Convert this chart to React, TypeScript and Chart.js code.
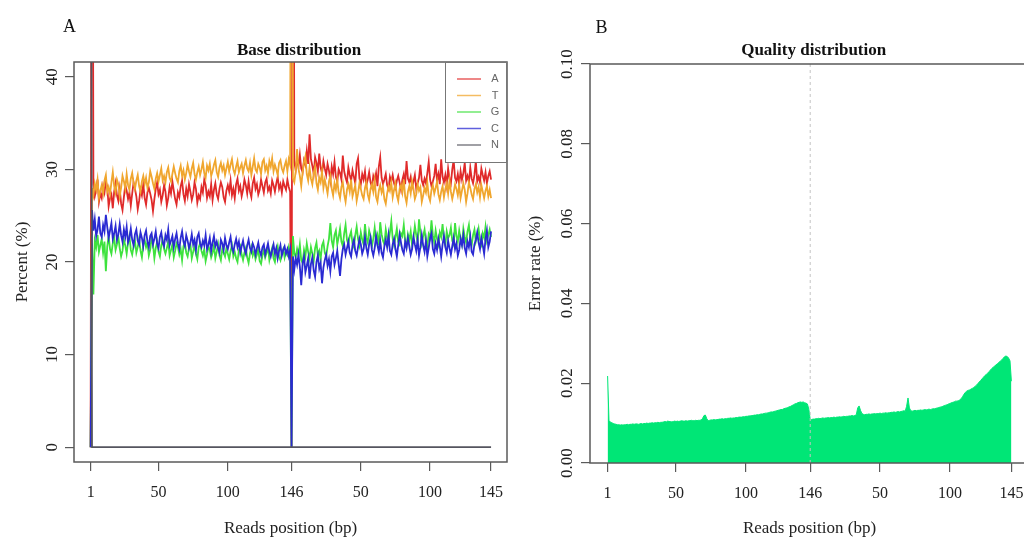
import React, { useEffect, useRef } from "react";
import { Chart, registerables } from "chart.js";

Chart.register(...registerables);

// ---------- Data ----------
const X_TICK_POS = [1, 50, 100, 146, 196, 246, 290];
const X_TICK_LABELS = ["1", "50", "100", "146", "50", "100", "145"];

const BASE_Y_TICKS = [0, 10, 20, 30, 40];
const QUAL_Y_TICKS = [0, 0.02, 0.04, 0.06, 0.08, 0.1];

const BASE_LABELS = ["A", "T", "G", "C", "N"];
const BASE_COLORS = ["#e02a2a", "#f0a62e", "#3ee23e", "#2a2ad2", "#55555f"];

// percent per read position 1..290
const BASE_A = [
  0, 100, 28.4, 27.1, 27.8, 28.9, 26.5, 27.4, 26.9, 28.2,
  27.5, 28.7, 28.1, 26.0, 26.9, 27.3, 25.8, 27.6, 28.5, 27.2,
  26.6, 27.9, 26.3, 25.6, 27.0, 28.3, 27.7, 26.8, 27.5, 26.1,
  27.4, 28.6, 27.9, 27.1, 25.7, 26.6, 27.8, 27.2, 28.4, 26.9,
  26.2, 27.5, 28.0, 27.4, 26.7, 25.5, 26.8, 27.9, 28.6, 27.3,
  27.8, 26.5, 27.2, 28.3, 27.6, 26.1, 26.9, 28.1, 27.4, 28.7,
  27.7, 26.8, 26.2, 27.5, 27.0, 28.2, 28.8, 27.3, 26.6, 27.9,
  27.1, 28.4, 27.6, 26.7, 27.3, 28.6, 27.9, 26.4, 27.2, 26.8,
  28.1, 27.5, 28.9, 28.3, 26.9, 27.6, 27.1, 28.4, 26.7, 27.8,
  28.5, 27.3, 26.8, 27.9, 28.6, 28.1, 27.0, 26.5, 27.7, 28.3,
  27.6, 28.8, 27.2, 27.9, 26.9, 28.4, 29.0, 27.7, 28.2, 27.1,
  27.8, 28.9, 28.3, 27.4, 28.7, 27.6, 27.0, 28.5, 29.1, 27.9,
  28.4, 27.3, 27.8, 28.9, 28.2, 27.5, 28.6, 29.0, 27.7, 28.1,
  27.4, 28.8, 28.3, 27.6, 28.5, 29.2, 27.9, 28.4, 27.5, 28.7,
  28.2, 27.8, 28.9, 28.1, 27.6, 0, 100, 30.8, 29.9, 31.2,
  30.3, 31.6, 30.1, 29.7, 31.0, 30.5, 32.0, 30.6, 33.8, 31.1,
  30.4, 29.5, 31.3, 30.7, 29.8, 31.7, 30.2, 29.6, 30.9, 30.1,
  29.4, 30.6, 29.9, 28.8, 30.3, 29.5, 30.8, 29.2, 28.7, 30.0,
  29.6, 28.9, 31.5, 29.8, 29.1, 28.6, 30.2, 29.4, 28.8, 29.9,
  29.2, 28.5, 30.6, 31.2, 29.0, 28.4, 29.5, 28.9, 29.8, 28.3,
  28.9, 29.7, 28.6, 28.1, 29.3, 28.8, 29.6, 28.2, 30.3, 31.3,
  29.1, 28.4, 28.9, 29.5, 28.3, 27.9, 29.2, 28.7, 29.4, 28.5,
  28.0, 28.8, 29.3, 28.6, 27.8, 28.9, 29.5, 28.4, 30.9, 29.0,
  28.6, 29.2, 28.1, 28.7, 29.4, 27.9, 28.5, 29.1, 30.5, 28.8,
  28.3, 29.0, 28.5, 29.6, 30.8, 28.9, 28.2, 28.7, 29.3, 30.6,
  28.8, 29.5, 28.4, 31.1, 29.2, 28.6, 29.4, 28.3, 30.1, 29.0,
  28.5, 30.0, 31.0, 29.1, 28.7, 29.5, 28.4, 29.8, 28.9, 29.6,
  30.7, 28.8, 29.3, 28.6, 30.2, 29.0, 28.5, 29.4, 30.9, 28.7,
  29.2, 28.6, 30.1, 29.4, 28.8, 29.7, 28.5, 29.3, 29.8, 28.9,
];

const BASE_T = [
  0, 28.0, 27.2, 28.5, 27.8, 28.9, 26.9, 27.7, 28.3, 27.4,
  28.8, 29.4, 27.6, 28.1, 27.3, 28.6, 29.7, 28.2, 27.5, 28.9,
  28.4, 27.1, 28.0, 29.3, 28.7, 27.9, 29.5, 28.3, 27.8, 29.0,
  29.6, 28.5, 27.9, 28.8, 29.4, 28.2, 27.6, 28.7, 29.3, 28.4,
  29.1, 28.0, 28.6, 29.8, 29.2, 28.5, 27.9, 29.0, 29.6, 28.7,
  29.4, 30.1, 28.8, 29.3, 28.6, 29.7, 30.2, 29.1, 28.7, 29.5,
  30.3, 29.6, 29.0, 28.6, 29.8, 30.4, 29.3, 29.9, 28.9, 29.6,
  30.5, 29.8, 29.2, 30.1, 30.7, 29.5, 28.9, 29.7, 30.3, 29.4,
  30.0, 30.8, 29.6, 29.1, 30.4, 29.9, 30.6, 29.3, 29.8, 30.5,
  31.0, 29.7, 29.2, 30.2, 30.7, 29.9, 30.4, 29.4, 30.1, 30.8,
  29.8, 30.5, 31.1, 30.0, 29.5, 30.3, 30.9, 29.7, 30.2, 30.6,
  29.6, 30.4, 31.0, 30.1, 29.8, 30.7, 29.4, 30.3, 31.2, 30.0,
  29.7, 30.6, 30.2, 29.5, 30.8, 31.1, 29.9, 30.4, 29.6, 30.9,
  30.3, 31.2, 29.8, 30.5, 30.0, 29.4, 30.7, 31.0, 30.1, 29.7,
  30.4, 30.9, 29.8, 31.1, 30.5, 100, 29.0, 28.6, 29.8, 32.2,
  30.1, 29.3, 28.2, 29.7, 30.8, 31.4, 29.5, 28.8, 30.2, 29.0,
  28.4, 29.6, 30.3, 28.5, 27.8, 29.1, 28.6, 29.8, 28.0, 28.9,
  28.2, 27.4, 28.7, 29.3, 27.9, 27.2, 28.5, 27.8, 28.9, 27.5,
  26.9, 28.1, 28.6, 27.3, 26.5, 27.8, 28.4, 27.6, 28.9, 27.1,
  27.7, 28.3, 26.6, 27.4, 28.5, 27.9, 27.2, 26.8, 28.0, 28.6,
  27.3, 26.7, 27.9, 28.4, 27.6, 28.8, 27.0, 26.5, 27.7, 28.3,
  27.5, 28.1, 26.8, 26.3, 27.4, 28.2, 27.7, 28.6, 27.0, 27.8,
  28.5, 27.2, 26.6, 27.9, 28.3, 27.5, 28.9, 27.1, 26.4, 27.6,
  28.2, 27.4, 28.7, 27.9, 26.8, 27.3, 28.4, 27.7, 28.1, 26.5,
  27.2, 28.0, 27.5, 28.6, 27.1, 26.6, 27.8, 28.3, 27.4, 28.0,
  28.7, 27.3, 26.7, 27.6, 28.2, 27.0, 27.9, 28.5, 27.4, 28.8,
  27.6, 26.8, 27.5, 28.4, 27.9, 27.2, 28.3, 26.9, 27.7, 28.5,
  27.8, 26.5, 27.4, 28.6, 28.0, 27.3, 26.8, 27.9, 28.4, 27.5,
  28.1, 27.0, 28.3, 27.6, 26.9, 27.7, 28.2, 27.1, 27.8, 26.9,
];

const BASE_G = [
  0, 22.0, 16.5, 22.3, 21.6, 22.9, 21.1, 21.8, 22.5, 21.0,
  22.2, 19.0, 21.7, 22.8, 21.4, 20.9, 22.0, 22.6, 21.3, 21.9,
  22.7, 21.5, 20.6, 21.2, 22.4, 21.8, 20.9, 22.1, 22.8, 21.3,
  20.8, 21.7, 22.3, 21.0, 21.6, 22.5, 21.2, 20.5, 21.9, 22.4,
  21.6, 22.1, 20.7, 21.3, 22.6, 21.9, 20.4, 21.5, 22.2, 21.1,
  20.6, 21.8, 22.4, 21.4, 20.9, 21.5, 22.2, 20.7, 21.3, 21.9,
  20.5, 21.2, 22.0, 21.6, 20.8, 21.4, 20.2, 21.7, 22.1, 21.0,
  20.6, 21.5, 21.9, 20.4, 21.1, 21.8, 20.9, 20.3, 21.6, 22.0,
  21.2, 20.7, 21.4, 20.1, 20.8, 21.7, 21.3, 20.5, 21.0, 21.8,
  20.4, 21.1, 21.9, 20.7, 20.2, 21.4, 21.0, 20.6, 21.5, 20.9,
  20.3, 21.2, 21.8, 20.6, 21.1, 20.4, 20.0, 21.3, 21.7, 20.8,
  20.2, 21.0, 21.5, 20.5, 19.9, 20.9, 21.6, 20.7, 21.2, 20.3,
  20.8, 21.4, 20.1, 19.8, 20.7, 21.3, 20.5, 21.0, 21.6, 20.2,
  20.9, 21.5, 20.4, 20.0, 21.1, 21.7, 20.6, 20.2, 21.0, 21.4,
  20.5, 21.2, 20.8, 21.6, 20.9, 0, 22.8, 21.0, 20.5, 21.4,
  20.7, 21.9, 20.2, 19.9, 21.3, 20.6, 22.0, 21.1, 20.4, 21.6,
  20.9, 20.1, 21.5, 22.1, 20.7, 21.2, 20.3, 21.8, 22.2, 21.0,
  20.6, 21.7, 22.5, 24.2, 22.3, 21.6, 22.9, 23.4, 21.9, 22.7,
  23.6, 22.2, 21.7, 23.1, 24.0, 22.4, 21.9, 22.8, 23.3, 22.0,
  21.6, 22.9, 23.8, 22.5, 21.8, 23.2, 22.4, 21.9, 24.1, 22.6,
  22.1, 23.4, 22.8, 21.7, 22.5, 23.7, 22.2, 22.9, 21.8, 24.3,
  23.0, 22.3, 21.9, 23.5, 22.6, 22.1, 23.2, 24.4, 22.5, 21.8,
  22.7, 23.6, 22.2, 21.9, 23.1, 22.8, 24.0, 22.3, 21.7, 23.0,
  22.4, 23.3, 21.8, 22.6, 23.9, 22.9, 22.1, 24.6, 23.2, 22.0,
  22.8, 23.5, 22.2, 21.7, 23.0, 22.6, 24.5, 22.9, 22.1, 23.4,
  22.5, 21.9, 23.2, 22.7, 24.1, 22.4, 21.8, 23.3, 22.6, 22.9,
  23.7, 22.3, 21.9, 24.2, 22.8, 22.2, 23.4, 22.5, 21.9, 23.6,
  22.7, 22.1, 23.3, 24.0, 22.4, 21.8, 22.9, 23.5, 22.2, 22.8,
  23.6, 22.4, 21.9, 23.1, 22.6, 23.8, 22.3, 22.9, 23.5, 22.7,
];

const BASE_C = [
  0, 25.6, 23.4, 24.6, 22.8, 23.5, 24.9, 23.1, 22.7, 24.0,
  23.3, 25.1, 23.8, 22.6, 23.4, 24.2, 22.5, 23.1, 23.9, 22.4,
  23.0, 24.1, 22.9, 22.2, 23.5, 22.7, 23.8, 22.1, 22.6, 23.6,
  22.4, 21.8, 23.0, 23.5, 22.3, 21.9, 23.2, 22.6, 21.7, 22.9,
  23.4, 22.2, 21.6, 22.8, 23.1, 21.9, 22.5, 23.3, 22.0, 21.5,
  22.7, 23.2, 22.1, 21.7, 22.9, 22.4, 23.5, 21.8, 22.3, 22.8,
  21.6, 22.5, 23.1, 22.0, 21.4, 22.6, 23.3, 22.2, 21.7, 22.9,
  22.3, 21.5, 22.1, 23.0, 21.9, 22.4, 21.3, 22.7, 23.1, 22.0,
  21.6, 22.3, 21.8, 22.9, 21.4, 21.9, 22.6, 21.2, 22.1, 22.8,
  21.7, 22.2, 21.5, 21.0, 22.4, 22.0, 21.3, 22.6, 21.8, 21.4,
  22.1, 22.7, 21.5, 21.1, 21.9, 22.5, 21.6, 22.2, 21.0, 21.7,
  22.3, 21.4, 20.9, 21.8, 22.4, 21.5, 21.1, 22.0, 21.6, 20.8,
  21.5, 22.1, 21.2, 20.7, 21.6, 21.9, 20.8, 21.4, 22.0, 21.1,
  20.6, 21.3, 21.9, 20.9, 21.5, 20.4, 21.2, 21.8, 20.7, 21.3,
  21.7, 20.9, 21.4, 20.6, 21.3, 0, 20.6, 19.2, 20.4, 19.7,
  20.8, 19.5, 17.5, 19.9, 20.6, 18.9, 19.6, 20.4, 18.2, 19.8,
  20.5, 19.1, 18.4, 20.0, 20.7, 19.3, 19.9, 17.7, 19.4, 20.2,
  20.8, 19.6, 20.3, 19.0, 20.6, 21.0, 19.7, 20.4, 21.2, 19.8,
  18.5, 20.3, 21.4, 21.9, 20.8, 21.5, 22.2, 21.0, 20.6, 21.8,
  22.4, 21.2, 20.7, 21.6, 22.5, 21.9, 20.9, 21.4, 22.7, 21.5,
  20.8, 21.9, 22.6, 21.3, 20.7, 21.5, 22.8, 21.8, 21.1, 22.3,
  21.0, 20.5, 21.7, 22.4, 21.6, 22.9, 21.2, 20.8, 21.9, 22.5,
  21.4, 20.6, 21.8, 23.0, 22.1, 21.3, 20.9, 22.2, 21.5, 22.6,
  21.7, 20.8, 21.4, 22.7, 21.9, 21.2, 22.4, 20.7, 21.6, 22.9,
  21.8, 21.1, 22.3, 20.6, 21.5, 22.6, 23.1, 21.4, 20.9, 22.0,
  21.3, 22.5, 21.7, 20.6, 21.9, 22.8, 21.6, 21.0, 22.3, 21.5,
  20.8, 21.7, 22.6, 21.4, 22.0, 20.7, 21.3, 22.5, 21.8, 22.9,
  21.5, 20.9, 22.2, 21.6, 22.7, 21.1, 20.8, 21.9, 22.4, 23.2,
  22.1, 21.4, 22.6, 21.8, 20.9, 22.5, 23.4, 21.6, 22.2, 23.3,
];

// N: flat at 0 except position 1
const BASE_N_POS = [1, 2, 290];
const BASE_N_VAL = [100, 0, 0];

// error rate per read position 1..290
const QUALITY = [
  0.0218, 0.0105, 0.0103, 0.0101, 0.0099, 0.0098, 0.0097, 0.0096, 0.0096, 0.0095,
  0.0096, 0.0095, 0.0096, 0.0096, 0.0097, 0.0096, 0.0097, 0.0097, 0.0098, 0.0097,
  0.0098, 0.0098, 0.0097, 0.0098, 0.0099, 0.0098, 0.0099, 0.0099, 0.0100, 0.0099,
  0.0100, 0.0100, 0.0101, 0.0100, 0.0101, 0.0101, 0.0102, 0.0101, 0.0102, 0.0102,
  0.0103, 0.0104, 0.0103, 0.0105, 0.0104, 0.0104, 0.0103, 0.0104, 0.0105, 0.0104,
  0.0105, 0.0104, 0.0105, 0.0106, 0.0105, 0.0105, 0.0106, 0.0105, 0.0106, 0.0106,
  0.0107, 0.0106, 0.0106, 0.0107, 0.0106, 0.0107, 0.0107, 0.0108, 0.0112, 0.0119,
  0.0120, 0.0111, 0.0106, 0.0107, 0.0108, 0.0108, 0.0109, 0.0108, 0.0109, 0.0109,
  0.0110, 0.0110, 0.0111, 0.0110, 0.0111, 0.0111, 0.0112, 0.0112, 0.0113, 0.0112,
  0.0113, 0.0113, 0.0114, 0.0114, 0.0115, 0.0115, 0.0115, 0.0116, 0.0116, 0.0117,
  0.0117, 0.0118, 0.0118, 0.0119, 0.0119, 0.0120, 0.0120, 0.0121, 0.0121, 0.0122,
  0.0123, 0.0123, 0.0124, 0.0125, 0.0125, 0.0126, 0.0127, 0.0128, 0.0128, 0.0129,
  0.0130, 0.0131, 0.0132, 0.0133, 0.0134, 0.0134, 0.0136, 0.0137, 0.0138, 0.0139,
  0.0141, 0.0142, 0.0144, 0.0146, 0.0148, 0.0149, 0.0151, 0.0152, 0.0153, 0.0152,
  0.0153, 0.0151, 0.0150, 0.0148, 0.0135, 0.0110, 0.0109, 0.0110, 0.0110, 0.0111,
  0.0111, 0.0112, 0.0111, 0.0112, 0.0113, 0.0112, 0.0113, 0.0113, 0.0114, 0.0113,
  0.0114, 0.0114, 0.0115, 0.0114, 0.0115, 0.0115, 0.0116, 0.0115, 0.0116, 0.0117,
  0.0116, 0.0117, 0.0117, 0.0118, 0.0118, 0.0119, 0.0118, 0.0119, 0.0121, 0.0138,
  0.0143, 0.0132, 0.0124, 0.0122, 0.0121, 0.0122, 0.0122, 0.0123, 0.0122, 0.0123,
  0.0123, 0.0124, 0.0123, 0.0124, 0.0124, 0.0125, 0.0124, 0.0125, 0.0125, 0.0126,
  0.0125, 0.0126, 0.0126, 0.0127, 0.0127, 0.0128, 0.0127, 0.0128, 0.0129, 0.0128,
  0.0129, 0.0130, 0.0131, 0.0130, 0.0142, 0.0163, 0.0138, 0.0131, 0.0130, 0.0131,
  0.0132, 0.0131, 0.0132, 0.0132, 0.0133, 0.0132, 0.0133, 0.0134, 0.0133, 0.0134,
  0.0135, 0.0134, 0.0135, 0.0136, 0.0136, 0.0137, 0.0138, 0.0139, 0.0140, 0.0141,
  0.0142, 0.0144, 0.0145, 0.0146, 0.0148, 0.0149, 0.0151, 0.0152, 0.0153, 0.0155,
  0.0155, 0.0156, 0.0158, 0.0161, 0.0166, 0.0172, 0.0177, 0.0180, 0.0182, 0.0183,
  0.0185, 0.0187, 0.0189, 0.0192, 0.0195, 0.0199, 0.0203, 0.0207, 0.0211, 0.0215,
  0.0219, 0.0222, 0.0225, 0.0229, 0.0233, 0.0237, 0.0240, 0.0243, 0.0246, 0.0249,
  0.0252, 0.0255, 0.0258, 0.0262, 0.0266, 0.0268, 0.0267, 0.0263, 0.0256, 0.0205,
];

const READ_SEPARATOR = 146;

// ---------- helpers ----------
const SERIF = "'Liberation Serif', 'DejaVu Serif', serif";
const SANS = "'Liberation Sans', 'DejaVu Sans', sans-serif";
const INK = "#222";
const AXIS = "#5a5a5a";

const toXY = (arr: number[]) => arr.map((y, i) => ({ x: i + 1, y }));

const framePlugin = {
  id: "frame",
  afterDatasetsDraw(chart: any) {
    const { ctx, chartArea } = chart;
    ctx.save();
    ctx.strokeStyle = AXIS;
    ctx.lineWidth = 1.5;
    ctx.strokeRect(chartArea.left, chartArea.top, chartArea.right - chartArea.left, chartArea.bottom - chartArea.top);
    ctx.restore();
  },
};

const baseLegendPlugin = {
  id: "baseLegend",
  afterDraw(chart: any) {
    const { ctx, chartArea } = chart;
    const w = 62;
    const h = 100;
    const x0 = chartArea.right - w;
    const y0 = chartArea.top;
    ctx.save();
    ctx.fillStyle = "#fff";
    ctx.fillRect(x0, y0, w, h);
    ctx.strokeStyle = "#777";
    ctx.lineWidth = 1;
    ctx.strokeRect(x0 + 0.5, y0 + 0.5, w - 1, h);
    ctx.font = `11px ${SANS}`;
    ctx.textAlign = "center";
    ctx.textBaseline = "middle";
    chart.data.datasets.forEach((ds: any, i: number) => {
      const y = y0 + 17 + i * 16.5;
      ctx.strokeStyle = ds.borderColor;
      ctx.globalAlpha = 0.75;
      ctx.lineWidth = 1.5;
      ctx.beginPath();
      ctx.moveTo(x0 + 12, y);
      ctx.lineTo(x0 + 36, y);
      ctx.stroke();
      ctx.globalAlpha = 1;
      ctx.fillStyle = "#666";
      ctx.fillText(ds.label, x0 + 50, y);
    });
    ctx.restore();
  },
};

function xScale(min: number, max: number, height: number) {
  return {
    type: "linear",
    min,
    max,
    afterBuildTicks: (s: any) => {
      s.ticks = X_TICK_POS.map((v) => ({ value: v }));
    },
    afterFit: (s: any) => {
      s.height = height;
      s.paddingLeft = 0;
      s.paddingRight = 0;
    },
    ticks: {
      autoSkip: false,
      maxRotation: 0,
      minRotation: 0,
      padding: 12,
      color: INK,
      font: { family: SERIF, size: 16 },
      callback: (_v: any, i: number) => X_TICK_LABELS[i],
    },
    grid: { display: true, drawOnChartArea: false, drawTicks: true, tickLength: 9, color: AXIS, lineWidth: 1.2 },
    border: { display: false },
    title: {
      display: true,
      text: "Reads position (bp)",
      color: INK,
      font: { family: SERIF, size: 17, lineHeight: 1 },
      padding: { top: 0, bottom: 0 },
    },
  };
}

function yScale(min: number, max: number, tickVals: number[], width: number, tickPad: number, titleText: string, titlePad: number, fmt: (v: number) => string) {
  return {
    type: "linear",
    min,
    max,
    afterBuildTicks: (s: any) => {
      s.ticks = tickVals.map((v) => ({ value: v }));
    },
    afterFit: (s: any) => {
      s.width = width;
      s.paddingTop = 0;
      s.paddingBottom = 0;
    },
    ticks: {
      autoSkip: false,
      minRotation: 90,
      maxRotation: 90,
      crossAlign: "center",
      padding: tickPad,
      color: INK,
      font: { family: SERIF, size: 17 },
      callback: (_v: any, i: number) => fmt(tickVals[i]),
    },
    grid: { display: true, drawOnChartArea: false, drawTicks: true, tickLength: 9, color: AXIS, lineWidth: 1.2 },
    border: { display: false },
    title: {
      display: true,
      text: titleText,
      color: INK,
      font: { family: SERIF, size: 17, lineHeight: 1 },
      padding: { top: titlePad, bottom: 0 },
    },
  };
}

export default function App() {
  const refA = useRef<HTMLCanvasElement>(null);
  const refB = useRef<HTMLCanvasElement>(null);

  useEffect(() => {
    const baseSeries = [BASE_A, BASE_T, BASE_G, BASE_C];
    const datasetsA: any[] = baseSeries.map((arr, i) => ({
      label: BASE_LABELS[i],
      data: toXY(arr),
      borderColor: BASE_COLORS[i],
      backgroundColor: BASE_COLORS[i],
      borderWidth: 1.8,
      pointRadius: 0,
      tension: 0,
      order: 5 - i,
    }));
    datasetsA.push({
      label: BASE_LABELS[4],
      data: BASE_N_POS.map((x, i) => ({ x, y: BASE_N_VAL[i] })),
      borderColor: BASE_COLORS[4],
      backgroundColor: BASE_COLORS[4],
      borderWidth: 1.8,
      pointRadius: 0,
      tension: 0,
      order: 1,
    });

    const chartA = new Chart(refA.current as HTMLCanvasElement, {
      type: "line",
      data: { datasets: datasetsA },
      options: {
        responsive: false,
        animation: false,
        devicePixelRatio: 1,
        layout: { padding: { top: 62, right: 5, bottom: 0, left: 0 } },
        plugins: { legend: { display: false }, tooltip: { enabled: false }, title: { display: false } },
        scales: {
          x: xScale(-11, 301.5, 75) as any,
          y: yScale(-1.6, 41.6, BASE_Y_TICKS, 74, 4.2, "Percent (%)", 14.5, (v) => String(v)) as any,
        },
      },
      plugins: [framePlugin, baseLegendPlugin],
    } as any);

    const chartB = new Chart(refB.current as HTMLCanvasElement, {
      type: "line",
      data: {
        datasets: [
          {
            label: "Error rate",
            data: toXY(QUALITY),
            borderColor: "#00e676",
            backgroundColor: "#00e676",
            borderWidth: 1,
            pointRadius: 0,
            tension: 0,
            fill: "origin",
            order: 2,
          },
          {
            label: "Read boundary",
            data: [
              { x: READ_SEPARATOR, y: QUAL_Y_TICKS[0] },
              { x: READ_SEPARATOR, y: QUAL_Y_TICKS[QUAL_Y_TICKS.length - 1] },
            ],
            borderColor: "#c4c4c4",
            borderWidth: 1,
            borderDash: [3, 3],
            pointRadius: 0,
            fill: false,
            order: 1,
          },
        ],
      },
      options: {
        responsive: false,
        animation: false,
        devicePixelRatio: 1,
        layout: { padding: { top: 64, right: 13, bottom: 0, left: 0 } },
        plugins: { legend: { display: false }, tooltip: { enabled: false }, title: { display: false } },
        scales: {
          x: xScale(-11.6, 302.6, 74) as any,
          y: yScale(0, 0.1, QUAL_Y_TICKS, 78, -1.6, "Error rate (%)", 15.5, (v) => v.toFixed(2)) as any,
        },
      },
      plugins: [framePlugin],
    } as any);

    return () => {
      chartA.destroy();
      chartB.destroy();
    };
  }, []);

  const label = (text: string, left: number, top: number, size: number, bold = false, center = false): React.ReactNode => (
    <div
      style={{
        position: "absolute",
        left,
        top,
        fontFamily: SERIF,
        fontSize: size,
        lineHeight: 1,
        fontWeight: bold ? 700 : 400,
        color: "#111",
        whiteSpace: "nowrap",
        transform: center ? "translateX(-50%)" : undefined,
      }}
    >
      {text}
    </div>
  );

  return (
    <div style={{ position: "absolute", left: 0, top: 0, width: 1024, height: 537, overflow: "hidden", background: "#fff" }}>
      <canvas ref={refA} width={512} height={537} style={{ position: "absolute", left: 0, top: 0, width: 512, height: 537, display: "block" }} />
      <canvas ref={refB} width={530} height={537} style={{ position: "absolute", left: 512, top: 0, width: 530, height: 537, display: "block" }} />
      {label("A", 63, 17, 18)}
      {label("B", 595.5, 18, 18)}
      {label("Base distribution", 299, 40.8, 17, true, true)}
      {label("Quality distribution", 813.7, 40.8, 17, true, true)}
    </div>
  );
}
